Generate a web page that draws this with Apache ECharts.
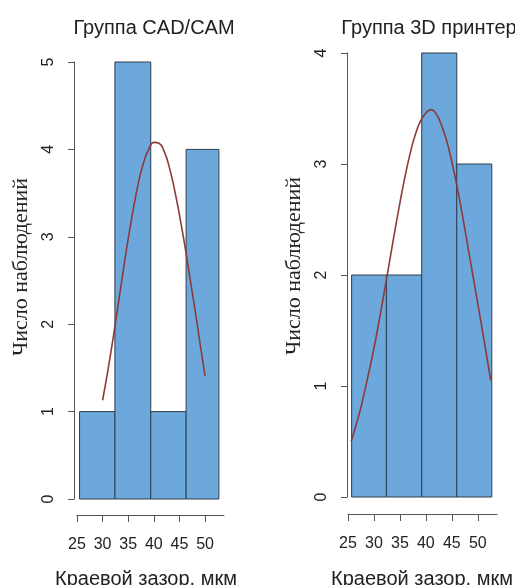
<!DOCTYPE html>
<html>
<head>
<meta charset="utf-8">
<script src="https://cdn.jsdelivr.net/npm/echarts@6/dist/echarts.min.js"></script>
<style>
html,body{margin:0;padding:0;background:#fff;}
#c{width:515px;height:585px;}
</style>
</head>
<body>
<div id="c"></div>
<script>
// ---- data ----
const titles = ['Группа CAD/CAM', 'Группа 3D принтер'];
const xTitle = 'Краевой зазор, мкм';
const yTitle = 'Число наблюдений';
const xTicks = [25, 30, 35, 40, 45, 50];

// histogram bins (edges in axis units) and counts
const binsCad = [25.5, 32.4, 39.4, 46.3, 52.7];
const countsCad = [1, 5, 1, 4];
const bins3d = [25.7, 32.4, 39.2, 45.95, 52.7];
const counts3d = [2, 2, 4, 3];

// fitted normal curve
const curveCadX = [30, 31, 32, 33, 34, 35, 36, 37, 38, 39, 40, 41, 42, 43, 44, 45, 46, 47, 48, 49, 50];
const curveCadY = [1.13, 1.46, 1.82, 2.21, 2.60, 2.98, 3.32, 3.62, 3.85, 4.00, 4.08, 4.07, 3.98, 3.80, 3.55, 3.25, 2.92, 2.55, 2.18, 1.79, 1.41];
const curve3dX = [25.6, 27, 28, 29, 30, 31, 32, 33, 34, 35, 36, 37, 38, 39, 40, 41, 42, 43, 44, 45, 46, 47, 48, 49, 50, 51, 52.5];
const curve3dY = [0.50, 0.72, 0.91, 1.12, 1.34, 1.59, 1.85, 2.12, 2.39, 2.65, 2.89, 3.10, 3.27, 3.39, 3.46, 3.49, 3.45, 3.35, 3.21, 3.02, 2.80, 2.55, 2.28, 2.01, 1.74, 1.47, 1.05];

// ---- build ----
function barData(edges, counts) {
  return counts.map((c, i) => [edges[i], edges[i + 1], c]);
}
function pairs(xs, ys) { return xs.map((x, i) => [x, ys[i]]); }

const chart = echarts.init(document.getElementById('c'), null, {renderer: 'canvas'});
const axisColor = '#555';
const textColor = '#222';
const sans = 'Liberation Sans, Arial, sans-serif';
const serif = 'Liberation Serif, Times New Roman, serif';

function xAxisDef(gridIndex, offset) {
  return {
    gridIndex, type: 'value', min: 25, max: 53.7, position: 'bottom', offset,
    axisLine: {show: true, onZero: false, lineStyle: {color: axisColor, width: 1}},
    axisTick: {show: true, length: 7, inside: false, customValues: xTicks, lineStyle: {color: axisColor}},
    axisLabel: {show: true, customValues: xTicks, fontSize: 16, color: textColor, margin: 22, fontFamily: sans},
    splitLine: {show: false}
  };
}
function yAxisDef(gridIndex, max, offset) {
  return {
    gridIndex, type: 'value', min: 0, max, interval: 1, position: 'left', offset,
    axisLine: {show: true, onZero: false, lineStyle: {color: axisColor, width: 1}},
    axisTick: {show: true, length: 6, lineStyle: {color: axisColor}},
    axisLabel: {show: true, rotate: 90, fontSize: 16, color: textColor, margin: 17, fontFamily: sans},
    splitLine: {show: false}
  };
}

function renderBar(params, api) {
  const p0 = api.coord([api.value(0), 0]);
  const p1 = api.coord([api.value(1), api.value(2)]);
  return {
    type: 'rect',
    shape: {x: p0[0], y: p1[1], width: p1[0] - p0[0], height: p0[1] - p1[1]},
    style: {fill: '#6ca8dc', stroke: '#2f3d4c', lineWidth: 1}
  };
}

function yName(x, y) {
  return {
    type: 'text', x, y, rotation: Math.PI / 2,
    style: {text: yTitle, font: '22px ' + serif, fill: textColor, align: 'center', verticalAlign: 'middle'}
  };
}

const option = {
  backgroundColor: '#fff',
  animation: false,
  title: [
    {text: titles[0], left: 149, top: 13, textAlign: 'center', textStyle: {fontSize: 20, fontWeight: 'normal', color: textColor, fontFamily: sans}},
    {text: titles[1], left: 424, top: 13, textAlign: 'center', textStyle: {fontSize: 20, fontWeight: 'normal', color: textColor, fontFamily: sans}},
    {text: xTitle, left: 141, top: 564, textAlign: 'center', textStyle: {fontSize: 20, fontWeight: 'normal', color: textColor, fontFamily: sans}},
    {text: xTitle, left: 417, top: 564, textAlign: 'center', textStyle: {fontSize: 20, fontWeight: 'normal', color: textColor, fontFamily: sans}}
  ],
  graphic: [yName(21, 267), yName(294, 266)],
  grid: [
    {left: 77, top: 62, width: 147, height: 437},
    {left: 348, top: 53, width: 149, height: 444}
  ],
  xAxis: [xAxisDef(0, 16), xAxisDef(1, 17)],
  yAxis: [yAxisDef(0, 5, 3), yAxisDef(1, 4, 1)],
  series: [
    {type: 'custom', xAxisIndex: 0, yAxisIndex: 0, renderItem: renderBar, data: barData(binsCad, countsCad), encode: {x: [0, 1], y: 2}},
    {type: 'custom', xAxisIndex: 1, yAxisIndex: 1, renderItem: renderBar, data: barData(bins3d, counts3d), encode: {x: [0, 1], y: 2}},
    {type: 'line', xAxisIndex: 0, yAxisIndex: 0, data: pairs(curveCadX, curveCadY), smooth: true, showSymbol: false, lineStyle: {color: '#8c3a3a', width: 1.6}, z: 5},
    {type: 'line', xAxisIndex: 1, yAxisIndex: 1, data: pairs(curve3dX, curve3dY), smooth: true, showSymbol: false, lineStyle: {color: '#8c3a3a', width: 1.6}, z: 5}
  ]
};
chart.setOption(option);
</script>
</body>
</html>
